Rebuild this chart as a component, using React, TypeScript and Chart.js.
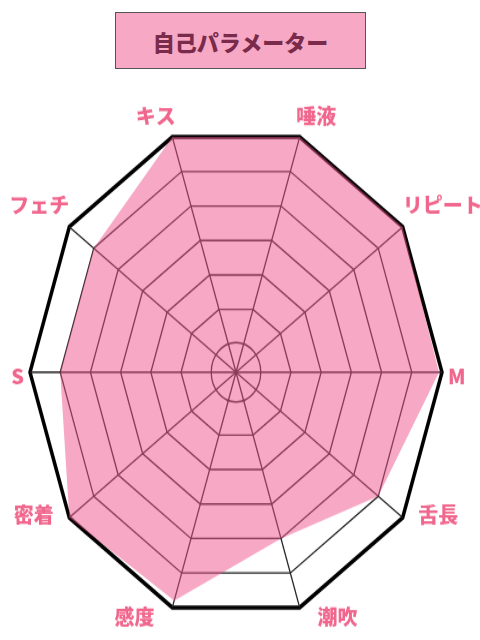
import React, { useEffect, useRef } from "react";
import { Chart, registerables } from "chart.js";

Chart.register(...registerables);

// ---- data ----
const TITLE = "自己パラメーター";
const CATEGORIES = ["キス", "唾液", "リピート", "M", "舌長", "潮吹", "感度", "密着", "S", "フェチ"];
const VALUES = [6, 6, 6, 5.9, 5, 4, 5.8, 6, 5, 5];
const TICK_VALUES = [0, 1, 2, 3, 4, 5, 6];
const SCALE_MIN = -0.82;
const SCALE_MAX = 6;

// ---- styling ----
const FILL = "rgba(240, 82, 138, 0.5)";
const LABEL_COLOR = "#F0668C";
const TITLE_COLOR = "#7a2a4a";
const FONT = '"Noto Sans CJK JP", "Noto Sans", sans-serif';

const CSS_W = 480;
const CSS_H = 640;
const BUF_H = 533;
const K = CSS_H / BUF_H; // vertical stretch

const labelPlugin = {
  id: "stretchedPointLabels",
  afterDraw(chart: any) {
    const scale = chart.scales.r;
    const ctx = chart.ctx as CanvasRenderingContext2D;
    const R = scale.drawingArea;
    const labels = chart.data.labels as string[];
    ctx.save();
    ctx.font = `900 20px ${FONT}`;
    ctx.fillStyle = LABEL_COLOR;
    ctx.textAlign = "center";
    ctx.textBaseline = "middle";
    labels.forEach((label, i) => {
      const angle = scale.getIndexAngle(i) - Math.PI / 2;
      const w = ctx.measureText(label).width;
      const c = Math.cos(angle);
      const s = Math.sin(angle);
      const v = scale.getPointPosition(i, R);
      const horizontal = Math.abs(s) < 0.01;
      const g = 6 + (s > 0 ? 10 * s + 8 * s * Math.abs(c) : 10 * s);
      const dx = Math.abs(c) < 0.01 ? 0 : Math.sign(c) * (w / 2 + g);
      const dyPage = horizontal
        ? 5
        : 16 * s - 6 - 12 * Math.max(0, Math.abs(c) - 0.309);
      const x = v.x + dx;
      const y = v.y + dyPage / K;
      ctx.save();
      ctx.translate(x, y);
      ctx.scale(1, 1 / K);
      ctx.fillText(label, 0, 0);
      ctx.restore();
    });
    ctx.restore();
  },
};

function RadarChart() {
  const ref = useRef<HTMLCanvasElement | null>(null);
  useEffect(() => {
    if (!ref.current) return;
    const last = TICK_VALUES.length - 1;
    const chart = new Chart(ref.current, {
      type: "radar",
      data: {
        labels: CATEGORIES,
        datasets: [
          {
            data: VALUES,
            backgroundColor: FILL,
            borderWidth: 0,
            pointRadius: 0,
            fill: "start",
          },
        ],
      },
      options: {
        animation: false,
        responsive: false,
        devicePixelRatio: 1,
        layout: { padding: { left: 30, right: 38, top: 104, bottom: 17 } },
        plugins: { legend: { display: false }, tooltip: { enabled: false } },
        scales: {
          r: {
            min: SCALE_MIN,
            max: SCALE_MAX,
            startAngle: -18,
            afterBuildTicks: (axis: any) => {
              axis.ticks = TICK_VALUES.map((v) => ({ value: v }));
            },
            ticks: { display: false },
            pointLabels: { display: false },
            angleLines: { color: "#222", lineWidth: 1.3 },
            grid: {
              circular: (ctx: any) => ctx.index === 0,
              color: (ctx: any) => (ctx.index === last ? "#000" : "#222"),
              lineWidth: (ctx: any) => (ctx.index === last ? 3.5 : 1.3),
            },
          },
        },
      } as any,
      plugins: [labelPlugin],
    });
    return () => chart.destroy();
  }, []);
  return (
    <canvas
      ref={ref}
      width={CSS_W}
      height={BUF_H}
      style={{ position: "absolute", left: 0, top: 0, width: CSS_W + "px", height: CSS_H + "px" }}
    />
  );
}

export default function App() {
  return (
    <div style={{ position: "absolute", left: 0, top: 0, width: CSS_W, height: CSS_H, background: "#fff" }}>
      <RadarChart />
      <div
        style={{
          position: "absolute",
          left: 115,
          top: 12,
          width: 251,
          height: 57,
          boxSizing: "border-box",
          border: "1.5px solid #555",
          background: "#F7A8C5",
          display: "flex",
          alignItems: "center",
          justifyContent: "center",
          fontFamily: FONT,
          fontWeight: 900,
          fontSize: 22,
          color: TITLE_COLOR,
        }}
      >
        {TITLE}
      </div>
    </div>
  );
}
